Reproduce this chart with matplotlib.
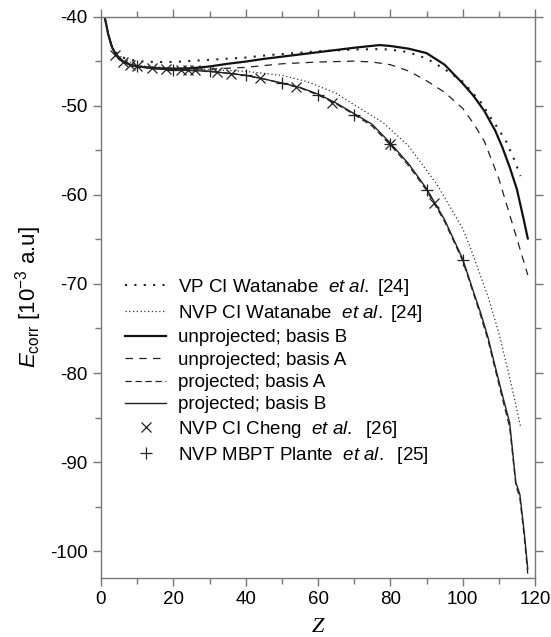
import numpy as np
import matplotlib
matplotlib.use("Agg")
import matplotlib.pyplot as plt
from matplotlib.ticker import MultipleLocator

plt.rcParams['font.family'] = ['Liberation Sans', 'DejaVu Sans']
plt.rcParams['mathtext.fontset'] = 'custom'
plt.rcParams['mathtext.rm'] = 'Liberation Sans'
plt.rcParams['mathtext.it'] = 'Liberation Sans:italic'
plt.rcParams['axes.unicode_minus'] = False

# VP CI Watanabe et al. [24]
vp_z = [4, 6, 10, 15, 20, 30, 40, 47, 60, 70, 77, 80, 85, 90, 95, 100, 105, 108, 110, 112, 114, 116]
vp_e = [-44.0, -44.6, -45.0, -45.1, -45.1, -44.85, -44.6, -44.3, -43.9, -43.7, -43.65, -43.7,
        -44.0, -44.7, -45.9, -47.3, -49.6, -51.5, -52.7, -54.0, -55.8, -57.9]

# NVP CI Watanabe et al. [24]
nvp_z = [2, 4, 10, 20, 30, 40, 50, 57, 65, 70, 78, 85, 93, 100, 102, 107, 110, 113, 116]
nvp_e = [-42.0, -44.2, -45.5, -45.8, -45.95, -46.15, -46.6, -47.3, -48.6, -49.9, -51.9, -54.5,
         -58.9, -63.8, -65.8, -71.4, -75.5, -80.5, -86.0]

# unprojected; basis B
ub_z = [1, 2, 3, 4, 6, 8, 10, 15, 20, 25, 30, 35, 40, 45, 50, 60, 70, 77, 80, 85, 90, 95,
        100, 103, 106, 109, 111, 113, 115, 117, 118]
ub_e = [-40.0, -42.0, -43.4, -44.2, -45.0, -45.4, -45.6, -45.8, -45.85, -45.8, -45.6, -45.3,
        -45.05, -44.75, -44.5, -44.0, -43.5, -43.2, -43.3, -43.6, -44.1, -45.4, -47.5, -48.9,
        -50.6, -52.8, -54.7, -56.9, -59.4, -63.0, -64.9]

# unprojected; basis A
ua_z = [1, 2, 3, 4, 6, 8, 10, 20, 30, 40, 50, 60, 70, 75, 80, 85, 90, 95, 100, 103, 106,
        110, 114, 118]
ua_e = [-40.0, -42.0, -43.4, -44.2, -45.0, -45.4, -45.6, -45.9, -45.9, -45.7, -45.3, -45.1,
        -45.0, -45.1, -45.4, -46.1, -47.2, -48.5, -50.3, -52.0, -54.0, -58.2, -63.6, -69.0]

# projected; basis B
pb_z = [1, 2, 3, 4, 5, 6, 8, 10, 15, 20, 25, 30, 35, 40, 45, 50, 55, 60, 65, 70, 75, 80, 85,
        90, 95, 100, 103, 105, 107, 109, 111, 113, 114.7, 115.8, 117, 118]
pb_e = [-40.0, -42.0, -43.4, -44.2, -44.8, -45.1, -45.4, -45.6, -45.85, -46.0, -46.05, -46.15,
        -46.35, -46.6, -47.0, -47.45, -47.95, -48.7, -49.7, -50.9, -52.1, -54.2, -56.5, -59.3,
        -62.8, -67.2, -70.9, -73.3, -76.0, -79.3, -82.5, -85.6, -92.3, -93.6, -97.8, -102.0]

# projected; basis A
pa_z = pb_z
pa_e = [-40.0, -42.0, -43.4, -44.2, -44.8, -45.1, -45.4, -45.6, -45.85, -46.0, -46.05, -46.15,
        -46.35, -46.6, -47.0, -47.5, -48.0, -48.8, -49.8, -51.0, -52.3, -54.4, -56.7, -59.5,
        -63.0, -67.4, -71.1, -73.6, -76.3, -79.6, -82.9, -86.1, -92.6, -94.0, -98.3, -102.6]

# NVP CI Cheng et al. [26]
cheng_z = [4, 6, 8, 10, 14, 18, 22, 24, 26, 32, 36, 44, 54, 64, 80, 92]
cheng_e = [-44.3, -45.1, -45.4, -45.6, -45.8, -45.9, -46.0, -46.0, -46.05, -46.25, -46.4,
           -46.9, -47.9, -49.65, -54.3, -60.9]

# NVP MBPT Plante et al. [25]
plante_z = [10, 20, 30, 40, 50, 60, 70, 80, 90, 100]
plante_e = [-45.6, -45.95, -46.1, -46.6, -47.4, -48.75, -51.0, -54.3, -59.5, -67.3]

fig = plt.figure(figsize=(5.51, 6.37), dpi=100)
ax = fig.add_axes([0.1833, 0.0926, 0.7877, 0.8814])

ax.plot(vp_z, vp_e, color='#222222', lw=1.5, dashes=(1, 3.5),
        label='VP CI Watanabe  $\\it{et\\ al.}$ [24]')
ax.plot(nvp_z, nvp_e, color='#333333', lw=0.9, dashes=(1, 2),
        label='NVP CI Watanabe  $\\it{et\\ al.}$ [24]')
ax.plot(ub_z, ub_e, color='#111111', lw=1.6, label='unprojected; basis B')
ax.plot(ua_z, ua_e, color='#222222', lw=0.9, dashes=(6, 5), label='unprojected; basis A')
ax.plot(pa_z, pa_e, color='#222222', lw=0.9, dashes=(5, 3), label='projected; basis A')
ax.plot(pb_z, pb_e, color='#222222', lw=1.0, label='projected; basis B')
ax.plot(cheng_z, cheng_e, ls='none', marker='x', ms=7, mew=0.9, color='#222222',
        label='NVP CI Cheng  $\\it{et\\ al.}$  [26]')
ax.plot(plante_z, plante_e, ls='none', marker='+', ms=9, mew=0.9, color='#222222',
        label='NVP MBPT Plante  $\\it{et\\ al.}$  [25]')

ax.set_xlim(0, 120)
ax.set_ylim(-103, -40)
ax.xaxis.set_major_locator(MultipleLocator(20))
ax.xaxis.set_minor_locator(MultipleLocator(10))
ax.yaxis.set_major_locator(MultipleLocator(10))
ax.yaxis.set_minor_locator(MultipleLocator(5))

for s in ax.spines.values():
    s.set_color('#777777')
    s.set_linewidth(1.0)
ax.tick_params(which='both', direction='out', top=True, right=True, colors='#777777',
               labelcolor='black', labelsize=13.5)
ax.tick_params(which='major', length=6, width=1.0)
ax.tick_params(which='minor', length=4, width=1.0)

ax.set_xlabel('Z', family='Liberation Serif', style='italic', fontsize=16, labelpad=7)
ax.set_ylabel('$E_{\\rm corr}$ [10$^{-3}$ a.u]', fontsize=16, labelpad=4)

ax.legend(loc='upper left', bbox_to_anchor=(0.025, 0.56), frameon=False, fontsize=13.5,
          handlelength=2.2, handletextpad=0.65, labelspacing=0.28, borderaxespad=0.3)

fig.savefig('out.png', dpi=100)
